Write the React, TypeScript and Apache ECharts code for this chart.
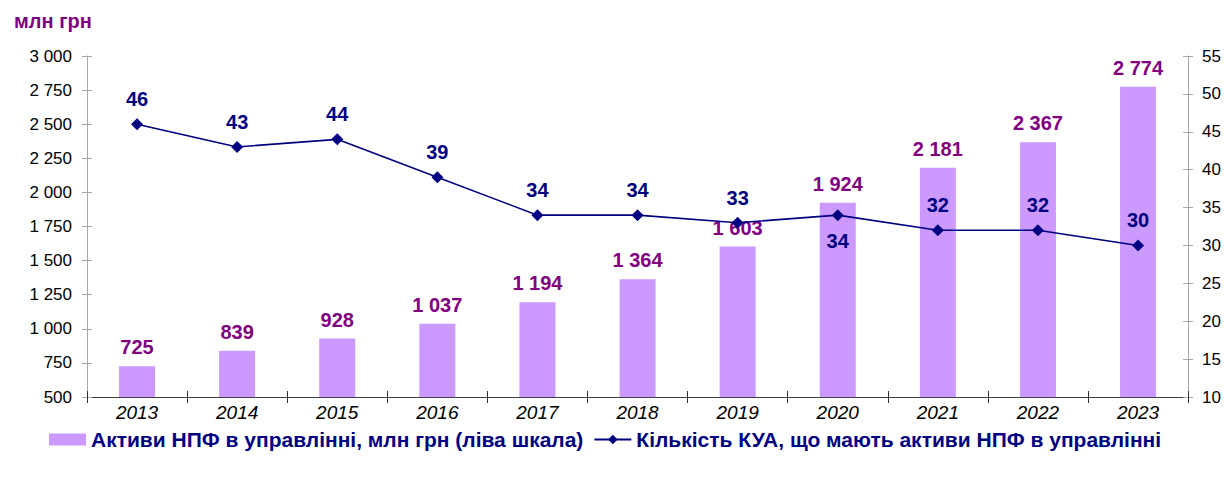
import React, { useEffect, useRef } from "react";
import * as echarts from "echarts";

const years = ["2013", "2014", "2015", "2016", "2017", "2018", "2019", "2020", "2021", "2022", "2023"];
const assets = [725, 839, 928, 1037, 1194, 1364, 1603, 1924, 2181, 2367, 2774];
const companies = [46, 43, 44, 39, 34, 34, 33, 34, 32, 32, 30];
const belowIdx = [7];
const leftMin = 500;
const leftMax = 3000;
const leftStep = 250;
const rightMin = 10;
const rightMax = 55;
const rightStep = 5;

const fmt = (v: number) => {
  const s = String(Math.round(v));
  return s.replace(/\B(?=(\d{3})+(?!\d))/g, " ");
};

const FONT = "'Liberation Sans', Arial, sans-serif";
const BAR_NAME = "Активи НПФ в управлінні, млн грн (ліва шкала)";
const LINE_NAME = "Кількість КУА, що мають активи НПФ в управлінні";

export default function App() {
  const ref = useRef<HTMLDivElement>(null);
  useEffect(() => {
    if (!ref.current) return;
    const chart = echarts.init(ref.current, null, { renderer: "svg" });
    const yGrey = "#a6a6a6";
    chart.setOption({
      animation: false,
      backgroundColor: "#ffffff",
      textStyle: { fontFamily: FONT },
      title: {
        text: "млн грн",
        left: 9,
        top: 6,
        textStyle: { color: "#800080", fontSize: 20, fontWeight: "bold", fontFamily: FONT },
      },
      grid: { left: 87, right: 34, top: 56, bottom: 80 },
      legend: {
        top: 424,
        left: 44,
        itemGap: 10,
        itemWidth: 37,
        itemHeight: 12,
        textStyle: { color: "#000080", fontSize: 21, fontWeight: "bold", fontFamily: FONT },
        data: [
          { name: BAR_NAME, icon: "rect" },
          { name: LINE_NAME },
        ],
      },
      xAxis: [
        {
          type: "category",
          data: years,
          position: "bottom",
          axisLine: { lineStyle: { color: "#404040", width: 1 } },
          axisTick: { show: true, length: 6, lineStyle: { color: "#303030" } },
          axisLabel: { color: "#000", fontSize: 19, fontStyle: "italic", fontFamily: FONT, margin: 6 },
        },
        {
          type: "category",
          data: years,
          position: "bottom",
          offset: 0,
          axisLine: { show: false },
          axisTick: { show: true, inside: true, length: 6, lineStyle: { color: "#303030" } },
          axisLabel: { show: false },
        },
      ],
      yAxis: [
        {
          type: "value",
          min: leftMin,
          max: leftMax,
          interval: leftStep,
          position: "left",
          axisLine: { show: true, lineStyle: { color: yGrey } },
          axisTick: { show: true, length: 5, lineStyle: { color: yGrey } },
          splitLine: { show: false },
          axisLabel: { color: "#000", fontSize: 17, fontFamily: FONT, margin: 15, formatter: (v: number) => fmt(v) },
        },
        {
          type: "value",
          min: rightMin,
          max: rightMax,
          interval: rightStep,
          position: "right",
          axisLine: { show: true, lineStyle: { color: yGrey } },
          axisTick: { show: true, length: 5, lineStyle: { color: yGrey } },
          splitLine: { show: false },
          axisLabel: { color: "#000", fontSize: 17, fontFamily: FONT, margin: 14 },
        },
        {
          type: "value",
          min: leftMin,
          max: leftMax,
          interval: leftStep,
          position: "left",
          offset: 0,
          axisLine: { show: false },
          axisTick: { show: true, inside: true, length: 5, lineStyle: { color: yGrey } },
          splitLine: { show: false },
          axisLabel: { show: false },
        },
        {
          type: "value",
          min: rightMin,
          max: rightMax,
          interval: rightStep,
          position: "right",
          offset: 0,
          axisLine: { show: false },
          axisTick: { show: true, inside: true, length: 5, lineStyle: { color: yGrey } },
          splitLine: { show: false },
          axisLabel: { show: false },
        },
      ],
      series: [
        {
          name: BAR_NAME,
          type: "bar",
          xAxisIndex: 0,
          yAxisIndex: 0,
          data: assets,
          barWidth: 36,
          itemStyle: { color: "#cc99ff" },
          label: {
            show: true,
            position: "top",
            distance: 9,
            color: "#800080",
            fontSize: 20,
            fontWeight: "bold",
            fontFamily: FONT,
            formatter: (p: any) => fmt(p.value),
          },
          z: 2,
        },
        {
          name: LINE_NAME,
          type: "line",
          xAxisIndex: 0,
          yAxisIndex: 1,
          data: companies.map((v, i) => ({
            value: v,
            label: belowIdx.includes(i) ? { position: "bottom", distance: 10 } : undefined,
          })),
          symbol: "diamond",
          symbolSize: 12,
          lineStyle: { color: "#000080", width: 1.6 },
          itemStyle: { color: "#000080" },
          label: {
            show: true,
            position: "top",
            distance: 9,
            color: "#000080",
            fontSize: 20,
            fontWeight: "bold",
            fontFamily: FONT,
          },
          z: 3,
        },
      ],
    });
    return () => chart.dispose();
  }, []);
  return <div ref={ref} style={{ width: 1224, height: 477, position: "absolute", left: 0, top: 0 }} />;
}
